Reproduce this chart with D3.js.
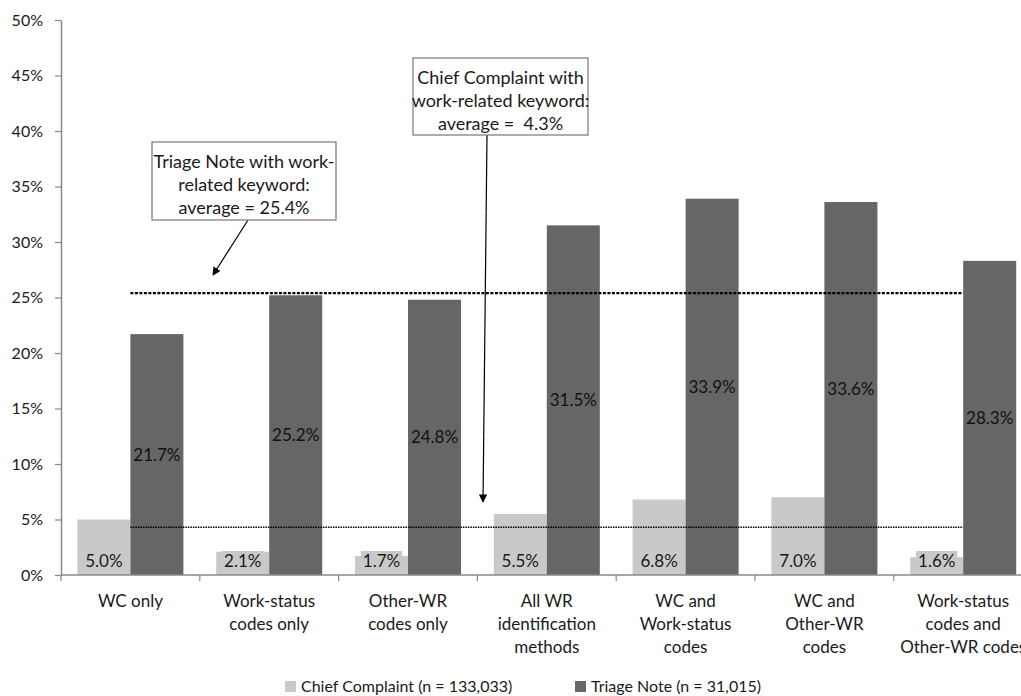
<!DOCTYPE html>
<html><head><meta charset="utf-8">
<script src="https://cdn.jsdelivr.net/npm/d3@7"></script>
<style>body{margin:0;background:#fff}svg{display:block;font-family:Lato,"Noto Sans",sans-serif}</style>
</head><body>
<svg id="c" width="1021" height="696"></svg>
<script>
const categories = [
  ["WC only"],
  ["Work-status","codes only"],
  ["Other-WR","codes only"],
  ["All WR","identification","methods"],
  ["WC and","Work-status","codes"],
  ["WC and","Other-WR","codes"],
  ["Work-status","codes and","Other-WR codes"]
];
const seriesNames = ["Chief Complaint (n = 133,033)", "Triage Note (n = 31,015)"];
const chiefComplaint = [5.0, 2.1, 1.7, 5.5, 6.8, 7.0, 1.6];
const triageNote = [21.7, 25.2, 24.8, 31.5, 33.9, 33.6, 28.3];
const averages = [4.3, 25.4];
const yTicks = [0,5,10,15,20,25,30,35,40,45,50];
const colors = ["#c9c9c9", "#666666"];

(function(){
const svg = d3.select("#c");
const mLeft = 61, mBottom = 575, mTop = 20, catW = 138.8;
const keys = categories.map((d,i)=>i);
const x = d3.scaleBand().domain(keys).range([mLeft, mLeft + catW*keys.length]).padding(0);
const xs = d3.scaleBand().domain([0,1]).range([16.4, catW-16.4]).padding(0);
const y = d3.scaleLinear().domain([0,50]).range([mBottom, mTop]);

// y axis
const ya = d3.axisLeft(y).tickValues(yTicks).tickFormat(d=>d+"%").tickSize(6).tickSizeOuter(0).tickPadding(12);
const yg = svg.append("g").attr("transform",`translate(${mLeft},0)`).call(ya);
yg.select(".domain").attr("stroke","#888").attr("stroke-width",1.5);
yg.selectAll(".tick line").attr("stroke","#888").attr("stroke-width",1.2);
yg.selectAll(".tick text").attr("font-size",16).attr("fill","#1a1a1a").attr("font-family","Lato");

// bars
const data = keys.map(i=>[chiefComplaint[i], triageNote[i]]);
const g = svg.append("g");
keys.forEach(i=>{
  data[i].forEach((v,s)=>{
    g.append("rect")
      .attr("x", x(i)+xs(s)).attr("width", xs.bandwidth())
      .attr("y", y(v)).attr("height", y(0)-y(v))
      .attr("fill", colors[s]);
  });
});

// x axis
svg.append("line").attr("x1",mLeft).attr("x2",x.range()[1]).attr("y1",mBottom).attr("y2",mBottom)
  .attr("stroke","#888").attr("stroke-width",1.5);
keys.concat([keys.length]).forEach(i=>{
  const xx = i<keys.length ? x(i) : x.range()[1];
  svg.append("line").attr("x1",xx).attr("x2",xx).attr("y1",mBottom).attr("y2",mBottom+6)
    .attr("stroke","#888").attr("stroke-width",1.2);
});
keys.forEach(i=>{
  const t = svg.append("text").attr("text-anchor","middle").attr("font-size",17).attr("fill","#1a1a1a");
  categories[i].forEach((ln,k)=>{
    t.append("tspan").attr("x", x(i)+catW/2).attr("y", 607 + k*23).text(ln);
  });
});

// average lines
const xStart = x(0)+catW/2, xEnd = x(keys.length-1)+catW/2;
svg.append("line").attr("x1",xStart).attr("x2",xEnd).attr("y1",y(averages[1])).attr("y2",y(averages[1]))
  .attr("stroke","#000").attr("stroke-width",2.2).attr("stroke-dasharray","3,1.5");
svg.append("line").attr("x1",xStart).attr("x2",xEnd).attr("y1",y(averages[0])).attr("y2",y(averages[0]))
  .attr("stroke","#000").attr("stroke-width",1.6).attr("stroke-dasharray","1.5,1");

// data labels
keys.forEach(i=>{
  const cx = x(i)+xs(0)+xs.bandwidth()/2;
  const lbl = chiefComplaint[i].toFixed(1)+"%";
  const tt = svg.append("text").attr("x",cx).attr("y",567).attr("text-anchor","middle")
    .attr("font-size",17).attr("fill","#1a1a1a").text(lbl);
  const bb = tt.node().getBBox();
  svg.insert("rect", () => tt.node()).attr("x",bb.x-2).attr("y",bb.y+1).attr("width",bb.width+4).attr("height",bb.height-1).attr("fill",colors[0]);
  const tx = x(i)+xs(1)+xs.bandwidth()/2;
  svg.append("text").attr("x",tx).attr("y",(y(triageNote[i])+y(0))/2+6).attr("text-anchor","middle")
    .attr("font-size",17).attr("fill","#111").text(triageNote[i].toFixed(1)+"%");
});

// arrow marker
svg.append("defs").append("marker").attr("id","arr").attr("viewBox","0 0 10 10").attr("refX",9).attr("refY",5)
  .attr("markerWidth",7).attr("markerHeight",7).attr("orient","auto-start-reverse")
  .append("path").attr("d","M0,0 L10,5 L0,10 z").attr("fill","#000");

function annot(bx, by, bw, bh, lines, ax1, ay1, ax2, ay2){
  svg.append("line").attr("x1",ax1).attr("y1",ay1).attr("x2",ax2).attr("y2",ay2)
    .attr("stroke","#000").attr("stroke-width",1.2).attr("marker-end","url(#arr)");
  svg.append("rect").attr("x",bx).attr("y",by).attr("width",bw).attr("height",bh)
    .attr("fill","#fff").attr("stroke","#777").attr("stroke-width",1.2);
  const t = svg.append("text").attr("text-anchor","middle").attr("font-size",18).attr("fill","#1a1a1a");
  lines.forEach((ln,k)=>t.append("tspan").attr("x",bx+bw/2).attr("y",by+26+k*23).attr("xml:space","preserve").text(ln));
}
annot(152,142,184,78,["Triage Note with work-","related keyword:","average = 25.4%"],248,220,213,275);
annot(413,58,175,77,["Chief Complaint with","work-related keyword:","average =  4.3%"],487,135,483,502);

// legend
const lg = [[285,seriesNames[0]],[575,seriesNames[1]]];
lg.forEach(([lx,name],s)=>{
  svg.append("rect").attr("x",lx).attr("y",681).attr("width",11).attr("height",11).attr("fill",colors[s]);
  svg.append("text").attr("x",lx+16).attr("y",692).attr("font-size",16).attr("fill","#1a1a1a").text(name);
});
})();
</script>
</body></html>
